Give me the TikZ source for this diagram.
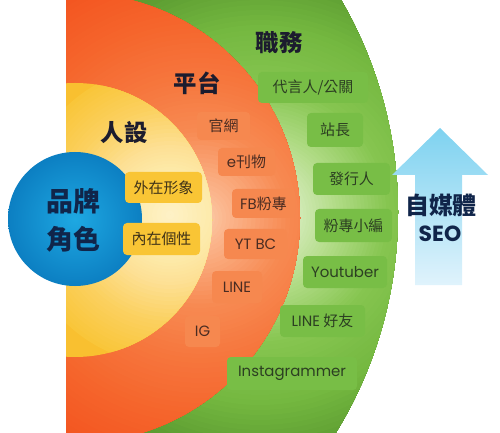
\documentclass[tikz,border=0pt]{standalone}
\usepackage{fontspec}
\setmainfont{Noto Sans CJK TC}
\newfontfamily\lat{Poppins}
\definecolor{gA}{HTML}{E0F0CC}
\definecolor{gB}{HTML}{D2EAB6}
\definecolor{gC}{HTML}{B0DB85}
\definecolor{gD}{HTML}{86C550}
\definecolor{gE}{HTML}{74B840}
\definecolor{gF}{HTML}{5E9E32}
\definecolor{gG}{HTML}{508F2A}
\definecolor{oA}{HTML}{FCD0AE}
\definecolor{oB}{HTML}{FBB58C}
\definecolor{oC}{HTML}{F78A52}
\definecolor{oD}{HTML}{F6773E}
\definecolor{oE}{HTML}{F5652C}
\definecolor{oF}{HTML}{F35520}
\definecolor{yA}{HTML}{FEF2C8}
\definecolor{yB}{HTML}{FDEAAA}
\definecolor{yC}{HTML}{FDE094}
\definecolor{yD}{HTML}{FBD05E}
\definecolor{yE}{HTML}{F9C63A}
\definecolor{yF}{HTML}{F9C030}
\definecolor{blueIn}{HTML}{1EA8E2}
\definecolor{blueOut}{HTML}{0C7FC2}
\definecolor{navy}{HTML}{10254A}
\definecolor{headc}{HTML}{1C1C2E}
\definecolor{ybox}{HTML}{F9C535}
\definecolor{obox}{HTML}{F6884F}
\definecolor{gbox}{HTML}{78BE46}
\definecolor{ytxt}{HTML}{3F3218}
\definecolor{otxt}{HTML}{4A2C22}
\definecolor{gtxt}{HTML}{2C3F22}
\definecolor{arrTop}{HTML}{7ED2F0}
\definecolor{arrBot}{HTML}{E0F3FC}
\newcommand\radsteps[7]{%
  \foreach \kk in {0,...,#7}{%
    \pgfmathsetmacro\myrr{#5-(#5-#3)*\kk/#7}%
    \pgfmathsetmacro\mypp{100*\kk/#7}%
    \fill[#4!\mypp!#6] (#1,#2) circle (\myrr);
  }}
\tikzset{
  boxbase/.style={rounded corners=4bp, inner sep=0pt, font=\fontsize{15}{17}\selectfont},
  ybx/.style={boxbase, fill=ybox, text=ytxt},
  obx/.style={boxbase, fill=obox, text=otxt},
  gbx/.style={boxbase, fill=gbox, text=gtxt},
  heading/.style={text=headc, font=\fontsize{23.5}{26}\selectfont\bfseries},
}
\begin{document}
\begin{tikzpicture}[x=1bp,y=-1bp]
\useasboundingbox (0,0) rectangle (500,433);
% green ring
\begin{scope}
  \clip (66,0) rectangle (500,433);
  \clip (-25,212) circle (423);
  \fill[gG] (260,215) circle (500);
  \radsteps{260}{215}{240}{gF}{400}{gG}{12}
  \radsteps{260}{215}{190}{gE}{240}{gF}{10}
  \radsteps{260}{215}{130}{gD}{190}{gE}{12}
  \radsteps{260}{215}{80}{gC}{130}{gD}{14}
  \radsteps{260}{215}{40}{gB}{80}{gC}{12}
  \radsteps{260}{215}{0}{gA}{40}{gB}{8}
\end{scope}
% orange ring
\begin{scope}
  \clip (66,0) rectangle (500,433);
  \clip (75,218) circle (225);
  \fill[oF] (200,218) circle (500);
  \radsteps{200}{218}{200}{oE}{260}{oF}{12}
  \radsteps{200}{218}{140}{oD}{200}{oE}{12}
  \radsteps{200}{218}{90}{oC}{140}{oD}{12}
  \radsteps{200}{218}{30}{oB}{90}{oC}{14}
  \radsteps{200}{218}{0}{oA}{30}{oB}{8}
\end{scope}
% yellow disc
\begin{scope}
  \clip (66,0) rectangle (500,433);
  \clip (75,220) circle (137);
  \fill[yF] (170,215) circle (300);
  \radsteps{170}{215}{110}{yD}{150}{yE}{10}
  \radsteps{170}{215}{70}{yC}{110}{yD}{10}
  \radsteps{170}{215}{45}{yB}{70}{yC}{8}
  \radsteps{170}{215}{0}{yA}{45}{yB}{10}
  \fill[yE] (170,215) circle (0);
\end{scope}
% blue circle
\shade[inner color=blueIn, outer color=blueOut] (75,219) circle (67);
\node[text=navy, font=\fontsize{27}{29}\selectfont\bfseries] (pinpai) at (73,201) {品牌};
\node[text=navy, font=\fontsize{27}{29}\selectfont\bfseries] (juese) at (73,239) {角色};
% headings
\node[heading] (zhiwu) at (279,43) {職務};
\node[heading] (pingtai) at (197,83) {平台};
\node[heading] (renshe) at (124,133) {人設};
% yellow boxes
\node[ybx, minimum width=77bp, minimum height=31bp] (wai) at (163.5,187.5) {外在形象};
\node[ybx, minimum width=77bp, minimum height=32bp] (nei) at (161.5,239) {內在個性};
% orange boxes
\node[obx, minimum width=53bp, minimum height=28bp] (guan) at (223.5,126) {官網};
\node[obx, minimum width=57bp, minimum height=28bp] (ekan) at (246.5,162) {{\lat e}刊物};
\node[obx, minimum width=63bp, minimum height=29bp] (fbfz) at (263.5,203.5) {{\lat FB}粉專};
\node[obx, minimum width=63bp, minimum height=30bp] (ytbc) at (255.5,244) {\lat YT BC};
\node[obx, minimum width=50bp, minimum height=32bp] (line) at (237,287) {\lat LINE};
\node[obx, minimum width=35bp, minimum height=31bp] (ig) at (202.5,331.5) {\lat IG};
% green boxes
\node[gbx, minimum width=110bp, minimum height=31bp] (dai) at (313,87.5) {代言人/公關};
\node[gbx, minimum width=56bp, minimum height=34bp] (zhan) at (335,130) {站長};
\node[gbx, minimum width=77bp, minimum height=32bp] (fa) at (351.5,179) {發行人};
\node[gbx, minimum width=77bp, minimum height=33bp] (xiaobian) at (353.5,225.5) {粉專小編};
\node[gbx, minimum width=84bp, minimum height=32bp] (yt) at (345,272) {\lat Youtuber};
\node[gbx, minimum width=85bp, minimum height=32bp] (lhy) at (322.5,321) {{\lat LINE} 好友};
\node[gbx, minimum width=130bp, minimum height=33bp] (insta) at (292,373.5) {\lat Instagrammer};
% arrow
\shade[top color=arrTop, bottom color=arrBot] (440,128) -- (488,175) -- (462,175) -- (462,285) -- (415,285) -- (415,175) -- (392,175) -- cycle;
\node[text=navy, font=\fontsize{24}{26}\selectfont\bfseries] (zmt) at (441,205) {自媒體};
\node[text=navy, font=\fontsize{22}{24}\selectfont\lat\bfseries] (seo) at (440,234) {SEO};
\end{tikzpicture}
\end{document}
